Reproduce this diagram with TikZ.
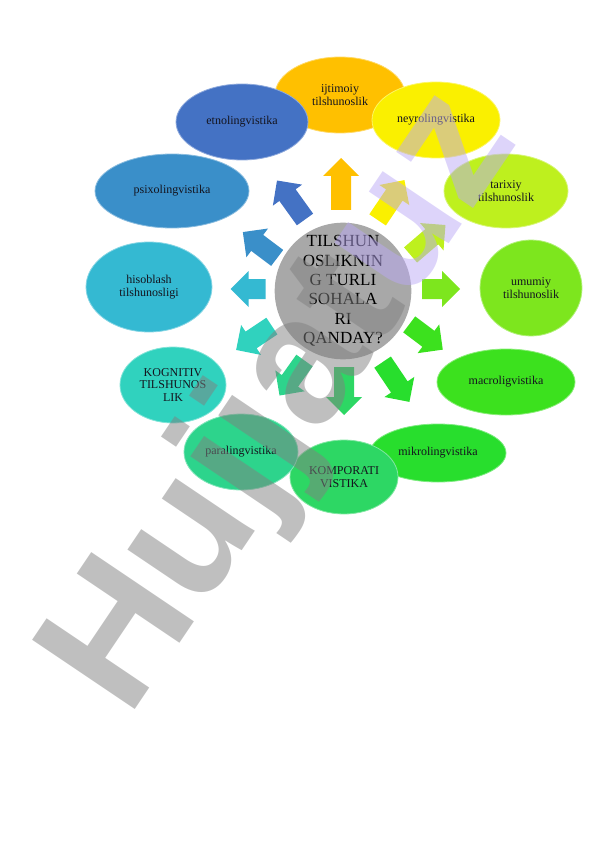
\documentclass[tikz,border=0pt]{standalone}
\usepackage{fontspec}
\setmainfont{Liberation Serif}
\newfontfamily\wmfont{Liberation Sans}
\usetikzlibrary{shapes.geometric}
\definecolor{cOrange}{RGB}{255,192,0}
\definecolor{cEtno}{RGB}{68,114,196}
\definecolor{cPsixo}{RGB}{58,143,201}
\definecolor{cHisob}{RGB}{52,185,210}
\definecolor{cKogn}{RGB}{48,210,190}
\definecolor{cPara}{RGB}{45,212,140}
\definecolor{cKomp}{RGB}{45,215,100}
\definecolor{cMikro}{RGB}{40,222,45}
\definecolor{cMacro}{RGB}{60,225,30}
\definecolor{cUmum}{RGB}{125,230,30}
\definecolor{cTarix}{RGB}{190,240,30}
\definecolor{cNeyro}{RGB}{250,240,0}
\definecolor{cCenter}{RGB}{168,168,168}
\definecolor{wmGray}{RGB}{128,128,128}
\definecolor{wmPurple}{RGB}{187,169,245}
\definecolor{txt}{RGB}{20,20,30}
\newcommand\radarrow[5]{%
  \begin{scope}[shift={(#2,#3)},rotate=#4]
    \fill[#1] ({-#5/2},-10) -- ({#5/2-18},-10) -- ({#5/2-18},-18) -- ({#5/2},0)
      -- ({#5/2-18},18) -- ({#5/2-18},10) -- ({-#5/2},10) -- cycle;
  \end{scope}}
\tikzset{
  topic/.style={ellipse, fill=#1, draw=#1!60!white, line width=0.8pt, inner sep=0pt,
    text=txt, align=center, font=\fontsize{12}{12.5}\selectfont},
  hub/.style={circle, fill=cCenter, minimum size=124pt, inner sep=0pt, align=center,
    text=black, font=\fontsize{17}{19.4}\selectfont},
  wm/.style={rotate=56, anchor=base west, inner sep=0pt, text opacity=0.5,
    font=\wmfont\bfseries\fontsize{180}{180}\selectfont}
}
\begin{document}
\begin{tikzpicture}[x=1pt,y=-1pt]
\path[use as bounding box] (0,0) rectangle (596,842);
% topics
\node[topic=cOrange, minimum width=130pt, minimum height=76pt] (ijt) at (340,95) {ijtimoiy\\tilshunoslik};
\node[topic=cNeyro, minimum width=128pt, minimum height=76pt] (ney) at (436,120) {neyrolingvistika};
\node[topic=cTarix, minimum width=124pt, minimum height=74pt] (tar) at (506,191) {tarixiy\\tilshunoslik};
\node[topic=cUmum, minimum width=102pt, minimum height=96pt] (umu) at (531,288) {umumiy\\tilshunoslik};
\node[topic=cMacro, minimum width=138pt, minimum height=66pt] (mac) at (506,382) {macroligvistika};
\node[topic=cMikro, minimum width=136pt, minimum height=58pt] (mik) at (438,453) {mikrolingvistika};
\node[topic=cKomp, minimum width=108pt, minimum height=74pt] (kom) at (344,477) {KOMPORATI\\VISTIKA};
\node[topic=cPara, minimum width=114pt, minimum height=76pt] (par) at (241,452) {paralingvistika};
\node[topic=cKogn, minimum width=106pt, minimum height=76pt] (kog) at (173,385) {KOGNITIV\\TILSHUNOS\\LIK};
\node[topic=cHisob, minimum width=126pt, minimum height=90pt] (his) at (149,287) {hisoblash\\tilshunosligi};
\node[topic=cPsixo, minimum width=154pt, minimum height=74pt] (psi) at (172,191) {psixolingvistika};
\node[topic=cEtno, minimum width=132pt, minimum height=76pt] (etn) at (242,122) {etnolingvistika};
% arrows
\radarrow{cOrange}{341}{184}{90}{52}
\radarrow{cNeyro}{391}{200}{56}{48}
\radarrow{cTarix}{428}{240}{40.6}{46}
\radarrow{cUmum}{441}{289}{0}{38}
\radarrow{cMacro}{426}{337}{-37}{42}
\radarrow{cMikro}{396}{382}{-56}{48}
\radarrow{cKomp}{344}{391}{-90}{48}
\radarrow{cPara}{292}{378}{-125.5}{43}
\radarrow{cKogn}{254}{338}{-146.3}{43}
\radarrow{cHisob}{248}{289}{180}{35}
\radarrow{cPsixo}{260}{245}{143}{43}
\radarrow{cEtno}{291}{200}{125.7}{48}
% hub
\node[hub] (hub) at (343,291) {TILSHUN\\OSLIKNIN\\G TURLI\\SOHALA\\RI\\QANDAY?};
% watermark
\node[wm] (wmark) at (128,720) {\textcolor{wmGray}{Hujjat}\textcolor{wmPurple}{uz}};
\end{tikzpicture}
\end{document}
